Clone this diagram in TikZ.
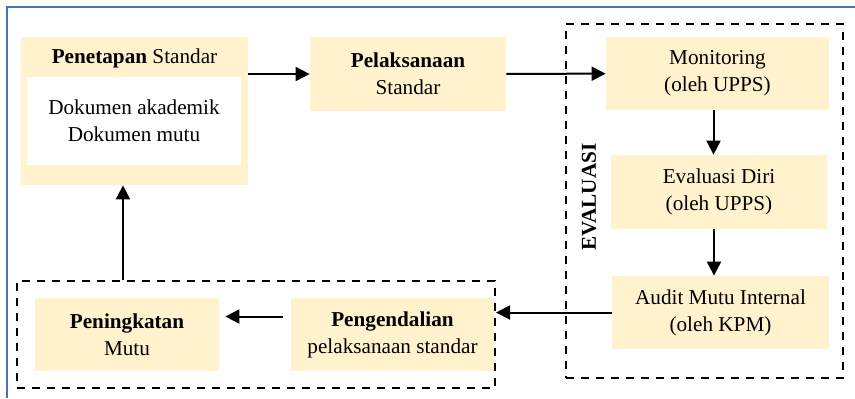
\documentclass[tikz,border=0pt]{standalone}
\usepackage{fontspec}
\setmainfont{Liberation Serif}
\usetikzlibrary{arrows.meta}
\definecolor{cream}{HTML}{FFF2CC}
\definecolor{framblue}{HTML}{4472C4}
\tikzset{
	box/.style={fill=cream, inner sep=0pt, align=center},
	grp/.style={draw, line width=1pt, dash pattern=on 4pt off 3.5pt, inner sep=0pt},
	arr/.style={line width=1pt, -{Triangle[length=7pt,width=7pt]}},
}
\begin{document}
\begin{tikzpicture}[x=0.5pt, y=-0.5pt, font=\fontsize{10.6}{13.5}\selectfont]
	\useasboundingbox (0,0) rectangle (855,398);
	
	% outer frame
	\draw[framblue, line width=0.75pt] (7,398) -- (7,7) -- (855,7);
	
	% Penetapan Standar box
	\node[box, minimum width=113.5pt, minimum height=74pt] (pen) at (134.5,111) {};
	\node[anchor=base] (pentitle) at (134.5,63) {\textbf{Penetapan} Standar};
	\node[fill=white, minimum width=107pt, minimum height=44pt, inner sep=0pt, align=center] (dok) at (134,121) {Dokumen akademik\\ Dokumen mutu};
	
	% Pelaksanaan
	\node[box, minimum width=98pt, minimum height=37pt] (pel) at (408,74) {\textbf{Pelaksanaan}\\ Standar};
	
	% Evaluasi group
	\node[grp, minimum width=138.5pt, minimum height=177pt] (eval) at (704.5,201) {};
	\node[rotate=90, font=\fontsize{10.6}{13.5}\selectfont\bfseries] (evallbl) at (589,197) {EVALUASI};
	\node[box, minimum width=111.5pt, minimum height=36.5pt] (mon) at (717.5,73.5) {Monitoring\\ (oleh UPPS)};
	\node[box, minimum width=108pt, minimum height=37pt] (evd) at (719,192) {Evaluasi Diri\\ (oleh UPPS)};
	\node[box, minimum width=108.5pt, minimum height=36.5pt] (aud) at (720.5,312.5) {Audit Mutu Internal\\ (oleh KPM)};
	
	% Pengendalian group
	\node[grp, minimum width=239pt, minimum height=53.5pt] (ctrl) at (256,334.5) {};
	\node[box, minimum width=92pt, minimum height=36.5pt] (pnk) at (127,334.5) {\textbf{Peningkatan}\\ Mutu};
	\node[box, minimum width=101.5pt, minimum height=36.5pt] (pgd) at (392.5,334.5) {\textbf{Pengendalian}\\ pelaksanaan standar};
	
	% Connecting arrows
	\draw[arr] (pel.west -| pen.east) -- (pel.west);
	\draw[arr] (pel) -- (mon);
	\draw[arr] ([xshift=-2pt]mon.south) -- ([xshift=-2pt]mon.south |- evd.north);
	\draw[arr] ([xshift=-2.5pt]evd.south) -- ([xshift=-2.5pt]evd.south |- aud.north);
	\draw[arr] (aud.west) -- (aud.west -| ctrl.east);
	\draw[arr, shorten <=4pt, shorten >=3pt] ([yshift=9pt]pgd.west) -- ([yshift=9pt]pnk.east);
	\draw[arr] ([xshift=-5.75pt]pen.south |- ctrl.north) -- ([xshift=-5.75pt]pen.south);
	
\end{tikzpicture}
\end{document}
